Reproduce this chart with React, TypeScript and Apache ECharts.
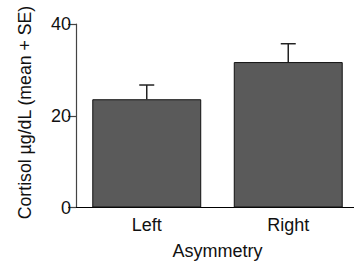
import React, { useEffect, useRef } from "react";
import * as echarts from "echarts";

const categories = ["Left", "Right"];
const means = [23.6, 31.7];
const upperSE = [26.7, 35.7];
const yTicks = [0, 20, 40];

const FONT = "Liberation Sans, Arial, sans-serif";

export default function App() {
  const ref = useRef<HTMLDivElement>(null);
  useEffect(() => {
    if (!ref.current) return;
    const chart = echarts.init(ref.current, null, { renderer: "svg" });
    const errData = categories.map((_, i) => [i, means[i], upperSE[i]]);
    chart.setOption({
      animation: false,
      backgroundColor: "#ffffff",
      grid: { left: 76, top: 24, bottom: 53.5, width: 283, outerBoundsMode: "none", containLabel: false },
      xAxis: {
        type: "category",
        data: categories,
        axisLine: { lineStyle: { color: "#000000", width: 1 } },
        axisTick: { show: false },
        axisLabel: { color: "#111111", fontFamily: FONT, fontSize: 18, margin: 8 },
        name: "Asymmetry",
        nameLocation: "middle",
        nameGap: 34,
        nameTextStyle: { color: "#111111", fontFamily: FONT, fontSize: 18 },
      },
      yAxis: {
        type: "value",
        min: yTicks[0],
        max: yTicks[yTicks.length - 1],
        interval: 20,
        splitLine: { show: false },
        axisLine: { show: true, lineStyle: { color: "#444444", width: 1.2 } },
        axisTick: { show: true, length: 8, lineStyle: { color: "#444444", width: 1.2 } },
        axisLabel: { color: "#111111", fontFamily: FONT, fontSize: 18, margin: 5 },
      },
      graphic: [
        {
          type: "text",
          x: 25,
          y: 112.5,
          rotation: Math.PI / 2,
          style: {
            text: "Cortisol µg/dL (mean + SE)",
            font: `17.7px ${FONT}`,
            fill: "#111111",
            align: "center",
            verticalAlign: "middle",
          },
        },
      ],
      series: [
        {
          type: "bar",
          data: means,
          barWidth: "77%",
          itemStyle: { color: "#5a5a5a", borderColor: "#111111", borderWidth: 1 },
          z: 2,
        },
        {
          type: "custom",
          data: errData,
          z: 1,
          renderItem: (params: any, api: any) => {
            const x = api.value(0);
            const lo = api.coord([x, api.value(1)]);
            const hi = api.coord([x, api.value(2)]);
            const half = 7.5;
            const style = { stroke: "#222222", lineWidth: 1.5 };
            return {
              type: "group",
              children: [
                { type: "line", shape: { x1: lo[0], y1: lo[1], x2: hi[0], y2: hi[1] }, style },
                { type: "line", shape: { x1: hi[0] - half, y1: hi[1], x2: hi[0] + half, y2: hi[1] }, style },
              ],
            };
          },
        },
      ],
    });
    return () => chart.dispose();
  }, []);
  return <div ref={ref} style={{ width: 354, height: 261, position: "absolute", left: 0, top: 0 }} />;
}
